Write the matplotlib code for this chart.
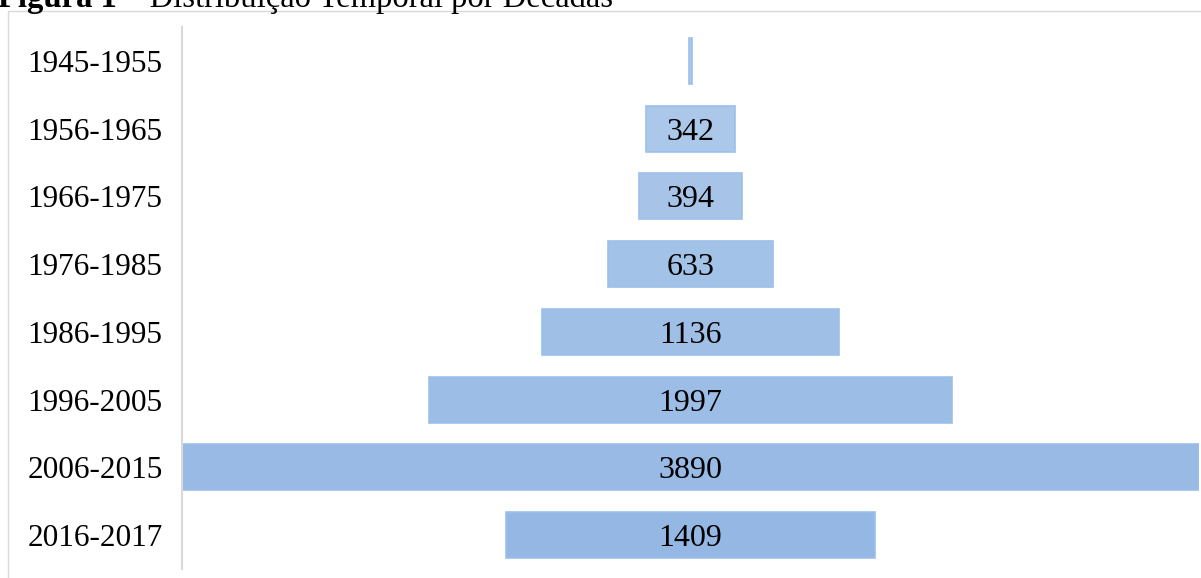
import numpy as np
import matplotlib
matplotlib.use("Agg")
import matplotlib.pyplot as plt
from matplotlib.patches import Rectangle
from matplotlib.colors import to_rgb

periods = ["1945-1955", "1956-1965", "1966-1975", "1976-1985",
           "1986-1995", "1996-2005", "2006-2015", "2016-2017"]
counts = [8, 342, 394, 633, 1136, 1997, 3890, 1409]
show_label = [False, True, True, True, True, True, True, True]

plt.rcParams['font.family'] = ['Liberation Serif', 'DejaVu Serif']

W, H = 1201, 578
fig = plt.figure(figsize=(W / 100, H / 100), dpi=100)

# outer frame of the figure box (cut off at right/bottom)
fig.patches.append(Rectangle((8 / W, -0.05), 1.2, 1 - 11 / H + 0.05,
                             transform=fig.transFigure, fill=False,
                             edgecolor="#d9d9d9", linewidth=1.0))

# caption, top half cropped like in the source
base = 1 - 7 / H
t1 = fig.text(-2 / W, base, "Figura 1", fontsize=23.5, fontweight="bold",
              va="baseline", ha="left")
fig.canvas.draw()
x1 = t1.get_window_extent().x1 / W
fig.text(x1, base, " \u2013 Distribuição Temporal por Décadas",
         fontsize=23.5, va="baseline", ha="left")

ax = fig.add_axes([182 / W, 1 - 569 / H, 1017 / W, 542 / H])

y = np.arange(len(periods))
light = np.array(to_rgb("#afc9ea"))
dark = np.array(to_rgb("#94b8e3"))
colors = [tuple(light + (dark - light) * i / (len(periods) - 1)) for i in range(len(periods))]

vals = np.array(counts)
ax.barh(y, vals, left=-vals / 2, height=0.68, color=colors,
        edgecolor="#9cc0ea", linewidth=1.2)

for yi, v, s in zip(y, counts, show_label):
    if s:
        ax.text(0, yi, str(v), ha="center", va="center_baseline",
                fontsize=23, color="black")

half = max(counts) / 2
ax.set_xlim(-half, half)
ax.set_ylim(len(periods) - 0.5, -0.5)
ax.set_yticks(y)
ax.set_yticklabels(periods, fontsize=22.5)
ax.tick_params(axis="y", length=0, pad=14)
ax.set_xticks([])
for side in ["top", "right", "bottom"]:
    ax.spines[side].set_visible(False)
ax.spines["left"].set_color("#d9d9d9")
ax.spines["left"].set_linewidth(1.5)

fig.savefig("out.png", dpi=100)
